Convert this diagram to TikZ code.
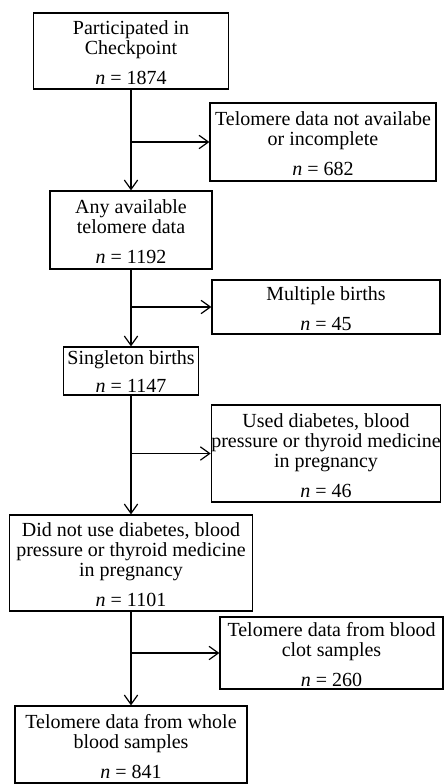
\documentclass[tikz,border=0pt]{standalone}
\usepackage{fontspec}
\setmainfont{Liberation Serif}
\usetikzlibrary{arrows.meta}
\newcommand{\tstrut}{\rule{0pt}{13pt}}
\begin{document}
\begin{tikzpicture}[x=0.75pt,y=-0.75pt,
  box/.style={draw,line width=0.9pt,align=center,inner sep=0pt,
    font=\fontsize{15}{15}\selectfont},
  arr/.style={line width=0.9pt,-{Straight Barb[length=7pt,width=10pt,line width=0.9pt]}}]
\useasboundingbox (0,0) rectangle (444,784);
\node[box,minimum width=146.25pt,minimum height=57pt] (b1) at (131,51)
  {\tstrut Participated in\\Checkpoint\\[7.5pt]\textit{n} = 1874};
\node[box,minimum width=169.5pt,minimum height=58.5pt] (b2) at (323,142)
  {\tstrut Telomere data not availabe\\or incomplete\\[7.5pt]\textit{n} = 682};
\node[box,minimum width=121.5pt,minimum height=58.5pt] (b3) at (131,230)
  {\tstrut Any available\\telomere data\\[7.5pt]\textit{n} = 1192};
\node[box,minimum width=171pt,minimum height=40.5pt] (b4) at (326,307)
  {\tstrut Multiple births\\[7.5pt]\textit{n} = 45};
\node[box,minimum width=101.25pt,minimum height=36pt] (b5) at (131,371)
  {\rule{0pt}{11pt}Singleton births\\[6pt]\textit{n} = 1147};
\node[box,minimum width=171pt,minimum height=72.75pt] (b6) at (326,453.5)
  {\tstrut Used diabetes, blood\\pressure or thyroid medicine\\in pregnancy\\[7.5pt]\textit{n} = 46};
\node[box,minimum width=182.25pt,minimum height=72pt] (b7) at (131,563)
  {\tstrut Did not use diabetes, blood\\pressure or thyroid medicine\\in pregnancy\\[7.5pt]\textit{n} = 1101};
\node[box,minimum width=167.25pt,minimum height=54pt] (b8) at (331.5,653)
  {\tstrut Telomere data from blood\\clot samples\\[7.5pt]\textit{n} = 260};
\node[box,minimum width=174pt,minimum height=57.75pt] (b9) at (131,744.5)
  {\tstrut Telomere data from whole\\blood samples\\[7.5pt]\textit{n} = 841};
\draw[arr] (b1.south) -- (b1.south |- b3.north);
\draw[arr] (b1.south |- b2.west) -- (b2.west);
\draw[arr] (b3.south) -- (b3.south |- b5.north);
\draw[arr] (b3.south |- b4.west) -- (b4.west);
\draw[arr] (b5.south) -- (b5.south |- b7.north);
\draw[arr] (b5.south |- b6.west) -- (b6.west);
\draw[arr] (b7.south) -- (b7.south |- b9.north);
\draw[arr] (b7.south |- b8.west) -- (b8.west);
\end{tikzpicture}
\end{document}
